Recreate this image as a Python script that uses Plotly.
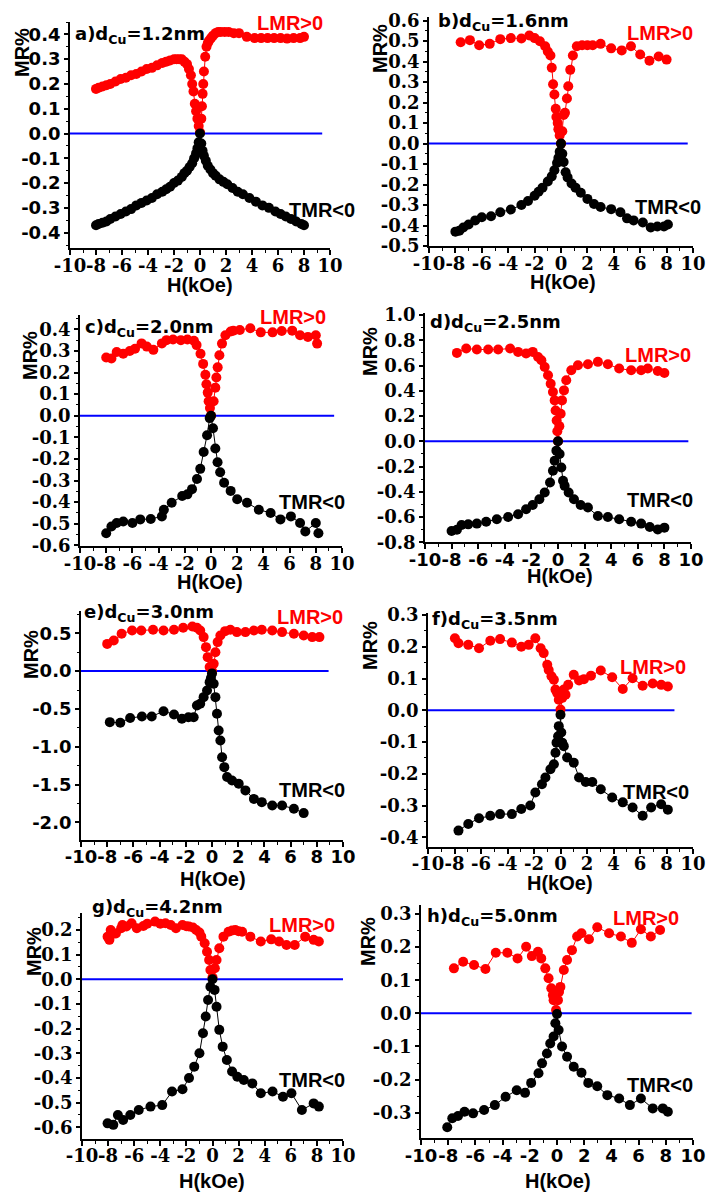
import numpy as np
import plotly.graph_objects as go

# ---------------- measured data: field H (kOe) vs magnetoresistance MR (%) ----------------
D_CU = ["1.2", "1.6", "2.0", "2.5", "3.0", "3.5", "4.2", "5.0"]
TAGS = ["a", "b", "c", "d", "e", "f", "g", "h"]

# (a) dCu = 1.2 nm
a_lmr_h = [-8.0, -7.8, -7.5, -7.2, -6.9, -6.5, -6.1, -5.7, -5.3, -4.9, -4.5, -4.1, -3.7, -3.3, -2.9, -2.6,
           -2.3, -2.0, -1.8, -1.6, -1.4, -1.2, -1.0, -0.85, -0.7, -0.6, -0.5, -0.4, -0.3, -0.2, -0.1, 0.0,
           0.1, 0.15, 0.2, 0.25, 0.3, 0.4, 0.5, 0.6, 0.7, 0.85, 1.0, 1.2, 1.4, 1.6, 1.9, 2.2, 2.6, 3.0,
           3.6, 4.2, 4.7, 5.2, 5.7, 6.2, 6.7, 7.2, 7.7, 8.0]
a_lmr_mr = [0.18, 0.185, 0.19, 0.195, 0.20, 0.21, 0.22, 0.225, 0.235, 0.24, 0.25, 0.26, 0.265, 0.275, 0.285, 0.29,
            0.295, 0.30, 0.30, 0.30, 0.30, 0.29, 0.28, 0.26, 0.235, 0.20, 0.17, 0.12, 0.09, 0.06, 0.03, 0.005,
            0.06, 0.11, 0.16, 0.20, 0.25, 0.31, 0.35, 0.365, 0.375, 0.385, 0.395, 0.405, 0.41, 0.41, 0.41, 0.41, 0.405, 0.405,
            0.39, 0.385, 0.385, 0.385, 0.385, 0.385, 0.383, 0.385, 0.385, 0.39]
a_tmr_h = [-8.0, -7.8, -7.5, -7.2, -6.9, -6.5, -6.1, -5.7, -5.3, -4.9, -4.5, -4.1, -3.7, -3.3, -2.9, -2.6,
           -2.3, -2.0, -1.7, -1.4, -1.2, -1.0, -0.8, -0.6, -0.45, -0.3, -0.2, -0.1, 0.0, 0.1, 0.2, 0.3,
           0.45, 0.6, 0.8, 1.0, 1.2, 1.5, 1.8, 2.1, 2.5, 2.9, 3.3, 3.8, 4.3, 4.8, 5.3, 5.8, 6.2, 6.6,
           7.0, 7.4, 7.8, 8.0]
a_tmr_mr = [-0.37, -0.365, -0.36, -0.355, -0.345, -0.335, -0.325, -0.315, -0.305, -0.29, -0.28, -0.27, -0.26, -0.245, -0.235, -0.225,
            -0.215, -0.20, -0.19, -0.175, -0.16, -0.15, -0.135, -0.12, -0.10, -0.08, -0.06, -0.035, 0.0, -0.04, -0.07, -0.09,
            -0.11, -0.13, -0.145, -0.16, -0.17, -0.185, -0.195, -0.205, -0.22, -0.235, -0.245, -0.26, -0.275, -0.29, -0.30, -0.315, -0.325, -0.335,
            -0.345, -0.355, -0.365, -0.37]

# (b) dCu = 1.6 nm
b_lmr_h = [-7.6, -6.9, -6.2, -5.4, -4.6, -3.8, -3.0, -2.4, -2.0, -1.6, -1.2, -1.0, -0.8, -0.7, -0.6, -0.5,
           -0.4, -0.35, -0.25, -0.2, -0.1, 0.0, 0.1, 0.2, 0.3, 0.45, 0.55, 0.7, 0.9, 1.2, 1.6, 2.0,
           2.4, 3.0, 3.8, 4.6, 5.3, 6.0, 6.7, 7.4, 8.0]
b_lmr_mr = [0.495, 0.505, 0.48, 0.487, 0.51, 0.515, 0.513, 0.528, 0.515, 0.50, 0.475, 0.45, 0.43, 0.37, 0.29, 0.24,
            0.17, 0.13, 0.10, 0.07, 0.04, 0.0, 0.06, 0.14, 0.15, 0.22, 0.28, 0.36, 0.43, 0.475, 0.48, 0.48,
            0.48, 0.487, 0.465, 0.455, 0.475, 0.435, 0.405, 0.425, 0.41]
b_tmr_h = [-8.0, -7.7, -7.4, -7.0, -6.5, -6.0, -5.3, -4.6, -3.8, -3.0, -2.5, -2.0, -1.7, -1.4, -1.0, -0.7,
           -0.5, -0.3, -0.2, -0.1, 0.0, 0.1, 0.2, 0.35, 0.5, 0.8, 1.1, 1.5, 2.0, 2.5, 3.0, 3.8,
           4.5, 5.0, 5.5, 6.2, 6.8, 7.3, 7.8, 8.1]
b_tmr_mr = [-0.43, -0.425, -0.41, -0.395, -0.375, -0.36, -0.355, -0.335, -0.322, -0.30, -0.28, -0.255, -0.235, -0.215, -0.185, -0.16,
            -0.13, -0.095, -0.07, -0.04, 0.0, -0.05, -0.09, -0.14, -0.165, -0.195, -0.215, -0.24, -0.27, -0.295, -0.31, -0.32,
            -0.335, -0.365, -0.375, -0.385, -0.41, -0.405, -0.405, -0.395]

# (c) dCu = 2.0 nm
c_lmr_h = [-8.0, -7.6, -7.2, -6.7, -6.2, -5.8, -5.3, -4.9, -4.4, -3.75, -3.4, -2.9, -2.3, -1.8, -1.3, -1.1,
           -0.8, -0.6, -0.43, -0.35, -0.25, -0.18, -0.08, 0.0, 0.2, 0.33, 0.41, 0.51, 0.64, 0.84, 1.1, 1.5,
           1.7, 2.2, 3.0, 3.8, 4.7, 5.4, 6.2, 6.8, 7.4, 8.0, 8.1]
c_lmr_mr = [0.27, 0.265, 0.295, 0.287, 0.30, 0.31, 0.335, 0.32, 0.305, 0.335, 0.35, 0.353, 0.35, 0.353, 0.347, 0.327,
            0.287, 0.24, 0.19, 0.146, 0.107, 0.067, 0.036, 0.0, 0.067, 0.13, 0.177, 0.224, 0.28, 0.334, 0.373, 0.39,
            0.394, 0.397, 0.405, 0.386, 0.386, 0.392, 0.394, 0.373, 0.365, 0.373, 0.334]
c_tmr_h = [-8.0, -7.6, -7.2, -6.7, -6.0, -5.4, -4.6, -3.75, -3.6, -3.0, -2.2, -1.8, -1.45, -1.07, -0.82, -0.56,
           -0.3, -0.1, 0.0, 0.15, 0.33, 0.5, 0.7, 1.0, 1.5, 2.0, 2.75, 3.65, 4.55, 5.3, 6.1, 6.8,
           7.2, 8.0, 8.2]
c_tmr_mr = [-0.544, -0.513, -0.497, -0.49, -0.497, -0.48, -0.478, -0.466, -0.435, -0.403, -0.372, -0.364, -0.34, -0.293, -0.246, -0.168,
            -0.09, -0.011, 0.0, -0.058, -0.152, -0.215, -0.262, -0.31, -0.348, -0.387, -0.403, -0.435, -0.45, -0.48, -0.466, -0.497,
            -0.536, -0.497, -0.544]

# (d) dCu = 2.5 nm
d_lmr_h = [-7.6, -6.9, -6.1, -5.25, -4.5, -3.6, -3.0, -2.4, -1.9, -1.5, -1.25, -1.0, -0.75, -0.55, -0.38, -0.25,
           -0.18, -0.1, -0.05, 0.0, 0.1, 0.2, 0.3, 0.45, 0.62, 1.0, 1.5, 2.25, 3.0, 3.75, 4.6, 5.5,
           6.25, 6.75, 7.5, 8.0]
d_lmr_mr = [0.70, 0.735, 0.727, 0.727, 0.727, 0.735, 0.708, 0.695, 0.708, 0.668, 0.642, 0.589, 0.523, 0.456, 0.39, 0.324,
            0.244, 0.164, 0.08, 0.0, 0.12, 0.218, 0.324, 0.403, 0.483, 0.562, 0.602, 0.61, 0.629, 0.61, 0.576, 0.562,
            0.562, 0.576, 0.557, 0.541]
d_tmr_h = [-8.0, -7.6, -7.25, -6.75, -6.1, -5.4, -4.6, -3.75, -3.0, -2.4, -1.9, -1.4, -1.0, -0.6, -0.38, -0.25,
           -0.12, 0.0, 0.12, 0.25, 0.38, 0.5, 0.8, 1.2, 1.7, 2.25, 3.0, 3.75, 4.6, 5.5, 6.25, 6.9,
           7.5, 8.0]
d_tmr_mr = [-0.711, -0.70, -0.663, -0.658, -0.652, -0.637, -0.618, -0.60, -0.578, -0.538, -0.504, -0.459, -0.406, -0.326, -0.233, -0.154,
            -0.074, 0.0, -0.10, -0.207, -0.313, -0.353, -0.406, -0.459, -0.504, -0.525, -0.592, -0.60, -0.618, -0.637, -0.652, -0.679,
            -0.698, -0.684]

# (e) dCu = 3.0 nm
e_lmr_h = [-8.0, -7.5, -6.9, -6.1, -5.4, -4.5, -3.7, -2.9, -2.2, -1.5, -1.15, -0.9, -0.64, -0.46, -0.33, -0.18,
           0.0, 0.13, 0.26, 0.43, 0.64, 1.0, 1.4, 1.9, 2.55, 3.2, 3.8, 4.6, 5.35, 6.25, 7.0, 7.65,
           8.2]
e_lmr_mr = [0.36, 0.405, 0.494, 0.538, 0.538, 0.547, 0.538, 0.547, 0.573, 0.591, 0.573, 0.538, 0.45, 0.317, 0.185, 0.053,
            0.0, 0.097, 0.25, 0.384, 0.472, 0.529, 0.547, 0.516, 0.516, 0.538, 0.547, 0.538, 0.516, 0.494, 0.472, 0.45,
            0.45]
e_tmr_h = [-7.8, -7.0, -6.25, -5.35, -4.6, -3.7, -2.9, -2.3, -1.8, -1.4, -1.15, -0.9, -0.64, -0.38, -0.18, -0.08,
           0.0, 0.13, 0.26, 0.38, 0.51, 0.64, 0.77, 0.94, 1.15, 1.53, 2.04, 2.55, 3.2, 3.8, 4.6, 5.35,
           6.25, 7.0]
e_tmr_mr = [-0.675, -0.683, -0.62, -0.60, -0.60, -0.53, -0.573, -0.63, -0.61, -0.61, -0.454, -0.432, -0.344, -0.256, -0.146, -0.09,
            -0.03, -0.168, -0.344, -0.564, -0.785, -0.917, -1.14, -1.27, -1.40, -1.446, -1.49, -1.578, -1.69, -1.733, -1.777, -1.777,
            -1.82, -1.878]

# (f) dCu = 3.5 nm
f_lmr_h = [-7.97, -7.7, -6.96, -6.15, -5.3, -4.56, -3.67, -2.96, -2.4, -1.9, -1.5, -1.27, -1.0, -0.89, -0.68, -0.5,
           -0.38, -0.25, -0.13, 0.0, 0.13, 0.25, 0.38, 0.58, 1.0, 1.4, 1.77, 2.3, 3.04, 3.9, 4.7, 5.44,
           6.2, 6.96, 7.6, 8.1]
f_lmr_mr = [0.227, 0.211, 0.206, 0.195, 0.219, 0.224, 0.213, 0.2, 0.206, 0.227, 0.195, 0.18, 0.143, 0.127, 0.107, 0.096,
            0.065, 0.054, 0.033, 0.002, 0.039, 0.065, 0.049, 0.08, 0.112, 0.094, 0.098, 0.109, 0.125, 0.104, 0.067, 0.101,
            0.077, 0.084, 0.08, 0.075]
f_tmr_h = [-7.7, -6.96, -6.15, -5.3, -4.56, -3.67, -2.96, -2.28, -1.9, -1.4, -1.14, -0.76, -0.5, -0.38, -0.3, -0.18,
           -0.13, -0.06, 0.0, 0.06, 0.13, 0.25, 0.5, 1.0, 1.4, 1.9, 2.4, 3.04, 3.9, 4.7, 5.44, 6.2,
           6.84, 7.6, 8.1]
f_tmr_mr = [-0.379, -0.358, -0.34, -0.332, -0.327, -0.327, -0.311, -0.30, -0.259, -0.233, -0.212, -0.186, -0.17, -0.134, -0.102, -0.082,
            -0.05, -0.10, -0.014, -0.07, -0.102, -0.113, -0.149, -0.165, -0.212, -0.226, -0.226, -0.249, -0.275, -0.29, -0.306, -0.332,
            -0.306, -0.296, -0.313]

# (g) dCu = 4.2 nm
g_lmr_h = [-8.04, -7.9, -7.8, -7.6, -7.4, -7.0, -6.9, -6.6, -6.2, -5.8, -5.3, -5.0, -4.4, -4.0, -3.6, -3.2,
           -2.8, -2.3, -2.0, -1.8, -1.5, -1.25, -1.0, -0.86, -0.6, -0.42, -0.26, -0.16, 0.0, 0.18, 0.31, 0.52,
           0.84, 1.23, 1.5, 1.75, 2.0, 2.27, 2.9, 3.7, 4.5, 5.1, 5.67, 6.3, 7.1, 7.75, 8.15]
g_lmr_mr = [0.173, 0.16, 0.2, 0.185, 0.186, 0.207, 0.22, 0.214, 0.227, 0.207, 0.216, 0.225, 0.234, 0.225, 0.227, 0.22,
            0.207, 0.22, 0.215, 0.214, 0.21, 0.2, 0.19, 0.173, 0.146, 0.112, 0.078, 0.038, 0.008, 0.045, 0.078, 0.126,
            0.173, 0.193, 0.198, 0.2, 0.195, 0.193, 0.173, 0.153, 0.162, 0.153, 0.139, 0.139, 0.173, 0.16, 0.153]
g_tmr_h = [-8.04, -7.6, -7.25, -6.85, -6.3, -5.65, -4.75, -3.85, -3.1, -2.3, -1.8, -1.4, -1.0, -0.73, -0.52, -0.34,
           -0.16, 0.0, 0.16, 0.31, 0.52, 0.78, 1.1, 1.5, 1.9, 2.4, 3.05, 3.7, 4.6, 5.4, 6.05, 6.85,
           7.75, 8.15]
g_tmr_mr = [-0.584, -0.59, -0.55, -0.57, -0.55, -0.53, -0.516, -0.51, -0.455, -0.446, -0.40, -0.354, -0.30, -0.219, -0.151, -0.084,
            -0.03, 0.0, -0.043, -0.111, -0.205, -0.273, -0.327, -0.374, -0.395, -0.408, -0.422, -0.462, -0.455, -0.476, -0.462, -0.53,
            -0.503, -0.516]

# (h) dCu = 5.0 nm
h_lmr_h = [-7.58, -6.9, -6.1, -5.26, -4.5, -3.65, -2.9, -2.27, -1.85, -1.4, -1.16, -0.86, -0.62, -0.42, -0.3, -0.25,
           -0.07, 0.07, 0.15, 0.25, 0.5, 0.74, 1.1, 1.48, 1.8, 2.35, 2.96, 3.83, 4.7, 5.5, 6.17,
           6.9, 7.58]
h_lmr_mr = [0.136, 0.156, 0.146, 0.134, 0.183, 0.183, 0.166, 0.201, 0.173, 0.186, 0.166, 0.136, 0.106, 0.076, 0.055, 0.04,
            0.01, 0.04, 0.065, 0.08, 0.131, 0.161, 0.191, 0.232, 0.242, 0.224, 0.26, 0.242, 0.232, 0.213, 0.254,
            0.232, 0.252]
h_tmr_h = [-8.07, -7.7, -7.28, -6.8, -6.17, -5.36, -4.57, -3.78, -2.96, -2.35, -1.9, -1.36, -1.1, -0.74, -0.5, -0.25,
           -0.12, 0.0, 0.12, 0.37, 0.74, 1.23, 1.8, 2.3, 2.96, 3.7, 4.57, 5.36, 6.17, 7.04, 7.78, 8.15]
h_tmr_mr = [-0.344, -0.317, -0.31, -0.297, -0.302, -0.292, -0.277, -0.252, -0.232, -0.24, -0.21, -0.181, -0.151, -0.121, -0.091, -0.07,
            -0.03, -0.002, -0.05, -0.10, -0.131, -0.161, -0.179, -0.21, -0.22, -0.247, -0.257, -0.277, -0.257, -0.287, -0.287, -0.297]

# MR = 0 reference line, drawn from H = -10 to these end fields
ZERO_LINE_END = [9.4, 9.6, 9.4, 9.8, 8.9, 8.6, 10.0, 9.9]

# tick labels
H_TICKS = [-10, -8, -6, -4, -2, 0, 2, 4, 6, 8, 10]
a_mr_ticks = [-0.4, -0.3, -0.2, -0.1, 0.0, 0.1, 0.2, 0.3, 0.4]
b_mr_ticks = [-0.5, -0.4, -0.3, -0.2, -0.1, 0.0, 0.1, 0.2, 0.3, 0.4, 0.5, 0.6]
c_mr_ticks = [-0.6, -0.5, -0.4, -0.3, -0.2, -0.1, 0.0, 0.1, 0.2, 0.3, 0.4]
d_mr_ticks = [-0.8, -0.6, -0.4, -0.2, 0.0, 0.2, 0.4, 0.6, 0.8, 1.0]
e_mr_ticks = [-2.0, -1.5, -1.0, -0.5, 0.0, 0.5]
f_mr_ticks = [-0.4, -0.3, -0.2, -0.1, 0.0, 0.1, 0.2, 0.3]
g_mr_ticks = [-0.6, -0.5, -0.4, -0.3, -0.2, -0.1, 0.0, 0.1, 0.2]
h_mr_ticks = [-0.3, -0.2, -0.1, 0.0, 0.1, 0.2, 0.3]

LMR = [(a_lmr_h, a_lmr_mr), (b_lmr_h, b_lmr_mr), (c_lmr_h, c_lmr_mr), (d_lmr_h, d_lmr_mr),
       (e_lmr_h, e_lmr_mr), (f_lmr_h, f_lmr_mr), (g_lmr_h, g_lmr_mr), (h_lmr_h, h_lmr_mr)]
TMR = [(a_tmr_h, a_tmr_mr), (b_tmr_h, b_tmr_mr), (c_tmr_h, c_tmr_mr), (d_tmr_h, d_tmr_mr),
       (e_tmr_h, e_tmr_mr), (f_tmr_h, f_tmr_mr), (g_tmr_h, g_tmr_mr), (h_tmr_h, h_tmr_mr)]
MR_TICKS = [a_mr_ticks, b_mr_ticks, c_mr_ticks, d_mr_ticks, e_mr_ticks, f_mr_ticks, g_mr_ticks, h_mr_ticks]

# ---------------- page geometry and styling ----------------
W, H = 718, 1193
SERIF = "DejaVu Serif"
SANS_WIDE = "DejaVu Sans"
SANS = "Liberation Sans"
RED = "#ff0000"
BLUE = "#0000ff"
TICK_SIZE = 18

# frame of each panel in pixels: left, right, top, bottom; MR axis range; minor step
FRAMES = [
    dict(x0=70, x1=330, top=22.0, bot=248.0, yr=(-0.462, 0.45), minor=0.05, yfont=SANS_WIDE, xfont=SERIF),
    dict(x0=429, x1=693, top=16.6, bot=246.0, yr=(-0.5, 0.62), minor=0.05, yfont=SERIF, xfont=SERIF),
    dict(x0=80, x1=342, top=315.3, bot=546.4, yr=(-0.605, 0.465), minor=0.05, yfont=SERIF, xfont=SERIF),
    dict(x0=425, x1=691, top=312.5, bot=542.3, yr=(-0.8, 1.02), minor=0.1, yfont=SERIF, xfont=SANS_WIDE),
    dict(x0=81, x1=343, top=611.4, bot=839.7, yr=(-2.23, 0.79), minor=0.25, yfont=SANS_WIDE, xfont=SANS_WIDE),
    dict(x0=428, x1=693, top=613.4, bot=846.8, yr=(-0.43, 0.305), minor=0.05, yfont=SERIF, xfont=SERIF),
    dict(x0=82, x1=343, top=913.2, bot=1138.9, yr=(-0.647, 0.268), minor=0.05, yfont=SERIF, xfont=SERIF),
    dict(x0=421, x1=693, top=905.1, bot=1138.2, yr=(-0.377, 0.327), minor=0.05, yfont=SERIF, xfont=SANS_WIDE),
]

# text placement in pixels: panel caption (left, mid), LMR tag, TMR tag, MR% title, H title
TEXT_POS = [
    dict(cap=(73, 35), lmr=(255, 23), tmr=(287, 210), ytitle=(22, 53), xtitle=(200, 285)),
    dict(cap=(436, 22), lmr=(625, 33), tmr=(633, 207), ytitle=(380, 49), xtitle=(563, 282)),
    dict(cap=(83, 328), lmr=(258, 317), tmr=(277, 502), ytitle=(30, 356), xtitle=(210, 582)),
    dict(cap=(428, 323), lmr=(623, 355), tmr=(625, 500), ytitle=(370, 352), xtitle=(560, 576)),
    dict(cap=(82, 613), lmr=(275, 617), tmr=(277, 790), ytitle=(31, 655), xtitle=(213, 879)),
    dict(cap=(430, 620), lmr=(618, 667), tmr=(621, 792), ytitle=(370, 646), xtitle=(560, 883)),
    dict(cap=(90, 908), lmr=(267, 925), tmr=(277, 1080), ytitle=(34, 952), xtitle=(212, 1181)),
    dict(cap=(425, 917), lmr=(611, 918), tmr=(625, 1085), ytitle=(368, 942), xtitle=(558, 1181)),
]


def px(x):
    return x / W


def py(y):
    return 1 - y / H


fig = go.Figure()
layout = dict(
    width=W, height=H, autosize=False,
    margin=dict(l=0, r=0, t=0, b=0, pad=0),
    paper_bgcolor="white", plot_bgcolor="white",
    showlegend=False,
)
annotations = []

for i in range(8):
    fr = FRAMES[i]
    tp = TEXT_POS[i]
    n = "" if i == 0 else str(i + 1)
    xa, ya = "x" + n, "y" + n

    # zero reference line
    fig.add_trace(go.Scatter(x=[-10, ZERO_LINE_END[i]], y=[0, 0], mode="lines",
                             line=dict(color=BLUE, width=2), xaxis=xa, yaxis=ya, hoverinfo="skip"))
    # longitudinal MR (positive)
    fig.add_trace(go.Scatter(x=LMR[i][0], y=LMR[i][1], mode="lines+markers",
                             line=dict(color=RED, width=1),
                             marker=dict(color=RED, size=10, line=dict(width=0)),
                             xaxis=xa, yaxis=ya))
    # transverse MR (negative)
    fig.add_trace(go.Scatter(x=TMR[i][0], y=TMR[i][1], mode="lines+markers",
                             line=dict(color="black", width=1),
                             marker=dict(color="black", size=10, line=dict(width=0)),
                             xaxis=xa, yaxis=ya))

    lo, hi = fr["yr"]
    yt = MR_TICKS[i]
    step = fr["minor"]
    y_minor = [round(v, 4) for v in np.arange(np.floor(lo / step) * step, hi + 1e-9, step)
               if lo <= v <= hi and all(abs(v - t) > 1e-6 for t in yt)]
    x_minor = [v for v in range(-10, 11) if v % 2 != 0]

    layout["xaxis" + n] = dict(
        domain=[px(fr["x0"]), px(fr["x1"])], anchor=ya, range=[-10, 10],
        showline=True, linecolor="black", linewidth=1.8, mirror=False,
        showgrid=False, zeroline=False, automargin=False,
        tickmode="array", tickvals=H_TICKS, ticktext=[str(v) for v in H_TICKS],
        ticks="outside", ticklen=5, tickwidth=1.5, tickcolor="black",
        tickangle=0, ticklabelstandoff=-5,
        tickfont=dict(family=fr["xfont"], size=TICK_SIZE, color="black", weight="bold"),
        minor=dict(tickmode="array", tickvals=x_minor, ticks="outside", ticklen=3,
                   tickwidth=1.2, tickcolor="black", showgrid=False),
        fixedrange=True,
    )
    layout["yaxis" + n] = dict(
        domain=[py(fr["bot"]), py(fr["top"])], anchor=xa, range=[lo, hi],
        showline=True, linecolor="black", linewidth=1.8, mirror=False,
        showgrid=False, zeroline=False, automargin=False,
        tickmode="array", tickvals=yt, ticktext=[f"{v:.1f}" for v in yt],
        ticks="outside", ticklen=4, tickwidth=1.5, tickcolor="black",
        tickangle=0,
        tickfont=dict(family=fr["yfont"], size=TICK_SIZE, color="black", weight="bold"),
        minor=dict(tickmode="array", tickvals=y_minor, ticks="outside", ticklen=2.5,
                   tickwidth=1.2, tickcolor="black", showgrid=False),
        fixedrange=True,
    )

    font_b = dict(family=SANS, size=20, color="black", weight="bold")
    annotations += [
        dict(text=f"{TAGS[i]})d<sub>Cu</sub>={D_CU[i]}nm", x=px(tp["cap"][0]), y=py(tp["cap"][1]),
             xref="paper", yref="paper", xanchor="left", yanchor="middle", showarrow=False,
             font=dict(family=SANS_WIDE, size=18, color="black", weight="bold")),
        dict(text="LMR&gt;0", x=px(tp["lmr"][0]), y=py(tp["lmr"][1]),
             xref="paper", yref="paper", xanchor="left", yanchor="middle", showarrow=False,
             font=dict(family=SANS, size=20, color=RED, weight="bold")),
        dict(text="TMR&lt;0", x=px(tp["tmr"][0]), y=py(tp["tmr"][1]),
             xref="paper", yref="paper", xanchor="left", yanchor="middle", showarrow=False, font=font_b),
        dict(text="MR%", x=px(tp["ytitle"][0]), y=py(tp["ytitle"][1]), textangle=-90,
             xref="paper", yref="paper", xanchor="center", yanchor="middle", showarrow=False, font=font_b),
        dict(text="H(kOe)", x=px(tp["xtitle"][0]), y=py(tp["xtitle"][1]),
             xref="paper", yref="paper", xanchor="center", yanchor="middle", showarrow=False, font=font_b),
    ]

layout["annotations"] = annotations
fig.update_layout(**layout)
fig.write_html("out.html")
